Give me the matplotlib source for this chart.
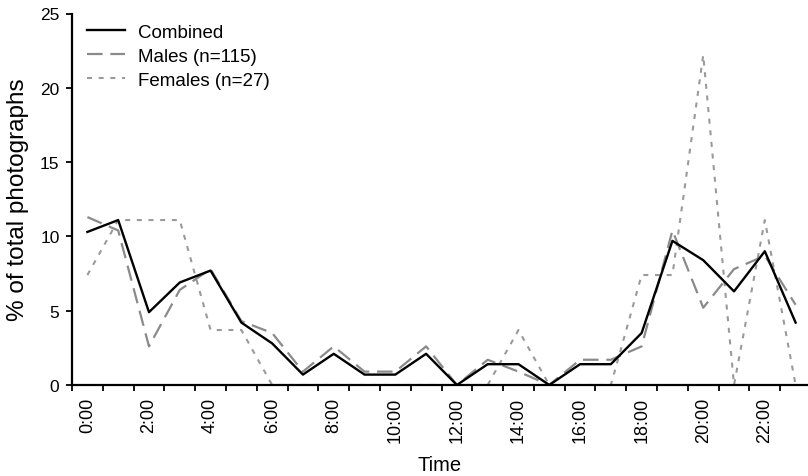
import matplotlib.pyplot as plt
import numpy as np

hours = np.arange(24)
hour_labels = ["%d:00" % h for h in range(0, 24, 2)]

combined = [10.3, 11.1, 4.9, 6.9, 7.7, 4.2, 2.8, 0.7, 2.1, 0.7, 0.7, 2.1,
            0.0, 1.4, 1.4, 0.0, 1.4, 1.4, 3.5, 9.7, 8.4, 6.3, 9.0, 4.2]
males = [11.3, 10.4, 2.6, 6.4, 7.8, 4.3, 3.5, 0.9, 2.6, 0.9, 0.9, 2.6,
         0.0, 1.7, 0.9, 0.0, 1.7, 1.7, 2.6, 10.4, 5.2, 7.8, 8.7, 5.4]
females = [7.4, 11.1, 11.1, 11.1, 3.7, 3.7, 0.0, 0.0, 0.0, 0.0, 0.0, 0.0,
           0.0, 0.0, 3.7, 0.0, 0.0, 0.0, 7.4, 7.4, 22.2, 0.0, 11.1, 0.0]

plt.rcParams["font.family"] = ["Liberation Sans", "DejaVu Sans"]

W, H = 808, 477
fig = plt.figure(figsize=(W / 100, H / 100), dpi=100)

# axes box in pixels: left spine at x=72, y=0 at 386, y=25 at 14.5
x0, x1 = 72, 811
y0, y1 = 386, 14.5
ax = fig.add_axes([x0 / W, 1 - y0 / H, (x1 - x0) / W, (y0 - y1) / H])

ax.plot(hours, combined, color="black", lw=1.7, zorder=3, label="Combined")
ax.plot(hours, males, color="#8a8a8a", lw=1.6, dashes=(7, 3.5), zorder=2,
        label="Males (n=115)")
ax.plot(hours, females, color="#9a9a9a", lw=1.5, dashes=(2.4, 3.2), zorder=1,
        label="Females (n=27)")

ax.set_xlim(-0.5, 23.5)
ax.set_ylim(0, 25)

ax.set_xticks(range(0, 24, 2))
ax.set_xticklabels(hour_labels, rotation=90, fontsize=13)
ax.set_xticks(np.arange(-0.5, 24, 1), minor=True)
ax.tick_params(axis="x", which="major", length=0, pad=8.5)
ax.tick_params(axis="x", which="minor", length=4, width=1.3, direction="out")

ax.set_yticks(range(0, 26, 5))
ax.tick_params(axis="y", length=4, width=1.3, direction="out", labelsize=12.5, pad=5)

for side in ["top", "right"]:
    ax.spines[side].set_visible(False)
for side in ["left", "bottom"]:
    ax.spines[side].set_linewidth(1.6)

fig.text(18 / W, 1 - 200 / H, "% of total photographs", rotation=90,
         ha="center", va="center", fontsize=17.5)
fig.text(439.5 / W, 1 - 471 / H, "Time", ha="center", va="baseline", fontsize=14.5)

ax.legend(loc="upper left", bbox_to_anchor=((87 - x0) / (x1 - x0), 0.972),
          frameon=False, fontsize=13.5, handlelength=2.0, handletextpad=0.7,
          labelspacing=0.36, borderpad=0, borderaxespad=0)

fig.savefig("out.png", dpi=100)
